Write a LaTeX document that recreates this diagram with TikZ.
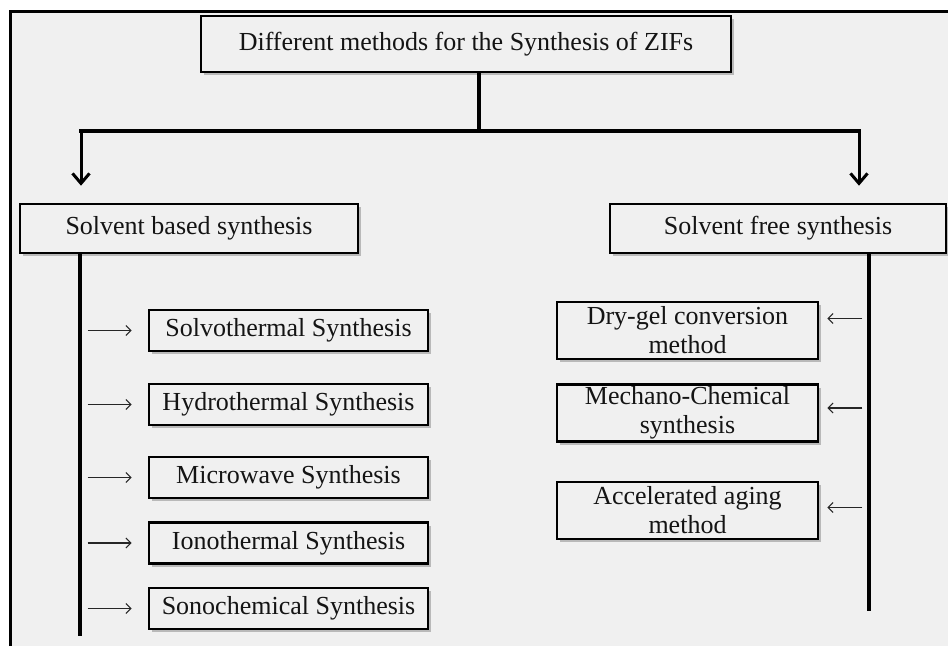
\documentclass[tikz,border=0pt]{standalone}
\usepackage{fontspec}
\setmainfont{Liberation Serif}
\usetikzlibrary{arrows.meta,shadows}
\definecolor{bg}{HTML}{F0F0F0}
\definecolor{ink}{HTML}{141414}
\begin{document}
\begin{tikzpicture}[x=1pt,y=-1pt,
  box/.style={draw=black,line width=2.6pt,fill=bg,text=ink,align=center,
    inner sep=0pt,font=\fontsize{26}{29}\selectfont,
    drop shadow={shadow xshift=2.5pt,shadow yshift=-3pt,fill=black!45,opacity=.55}},
  trunk/.style={line width=3.5pt,draw=black},
  bigarr/.style={line width=3pt,-{Straight Barb[length=10pt,width=17pt,line width=3pt]}},
  smallarr/.style={line width=1.1pt,draw=black!85,-{Straight Barb[length=5pt,width=10pt,line width=1.1pt]}}
]
\useasboundingbox (0,0) rectangle (948,646);
\fill[white] (0,0) rectangle (948,646);
\fill[bg] (10.5,11) rectangle (948,646);
\draw[line width=3pt] (10.5,646) -- (10.5,11) -- (948,11);

\node[box,minimum width=530pt,minimum height=56pt] (top) at (466,44) {Different methods for the Synthesis of ZIFs};
\node[box,minimum width=338pt,minimum height=49pt] (based) at (189,228.5) {Solvent based synthesis};
\node[box,minimum width=336pt,minimum height=49pt] (free) at (778,228.5) {Solvent free synthesis};

\node[box,minimum width=279pt,minimum height=41pt] (s1) at (288.5,330.5) {Solvothermal Synthesis};
\node[box,minimum width=279pt,minimum height=41pt] (s2) at (288.5,404.5) {Hydrothermal Synthesis};
\node[box,minimum width=279pt,minimum height=41pt] (s3) at (288.5,477.5) {Microwave Synthesis};
\node[box,minimum width=279pt,minimum height=41pt] (s4) at (288.5,543) {Ionothermal Synthesis};
\node[box,minimum width=279pt,minimum height=41pt] (s5) at (288.5,608.5) {Sonochemical Synthesis};

\node[box,minimum width=261pt,minimum height=57pt] (r1) at (687.5,330.5) {Dry-gel conversion\\method};
\node[box,minimum width=261pt,minimum height=57pt] (r2) at (687.5,413) {Mechano-Chemical\\synthesis};
\node[box,minimum width=261pt,minimum height=57pt] (r3) at (687.5,510.5) {Accelerated aging\\method};

\coordinate (j) at (479,131);
\coordinate (jl) at (81,131);
\coordinate (jr) at (859,131);
\draw[trunk] (top.south -| j) -- (j);
\draw[trunk,line cap=rect] (jl) -- (jr);
\draw[bigarr] (jl) -- ([yshift=17pt]based.north -| jl);
\draw[bigarr] (jr) -- ([yshift=17pt]free.north -| jr);

\coordinate (lb) at (80,636);
\coordinate (rb) at (869,611);
\draw[trunk] (based.south -| lb) -- (lb);
\draw[trunk] (free.south -| rb) -- (rb);

\foreach \n in {s1,s2,s3,s4,s5}
  \draw[smallarr] ([xshift=-60pt]\n.west) -- ([xshift=-16pt]\n.west);
\draw[smallarr] ([xshift=43pt,yshift=12pt]r1.east) -- ([xshift=8pt,yshift=12pt]r1.east);
\draw[smallarr] ([xshift=43pt,yshift=5pt]r2.east) -- ([xshift=8pt,yshift=5pt]r2.east);
\draw[smallarr] ([xshift=43pt,yshift=3pt]r3.east) -- ([xshift=8pt,yshift=3pt]r3.east);
\end{tikzpicture}
\end{document}
